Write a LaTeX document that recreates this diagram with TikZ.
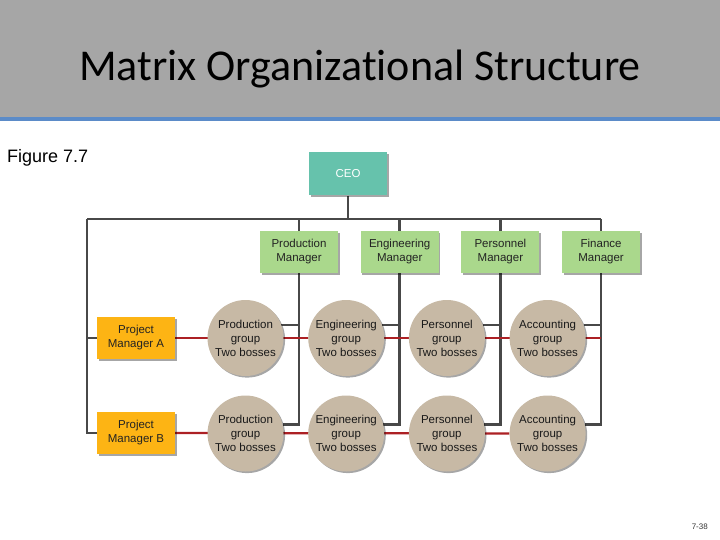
\documentclass[tikz,border=0pt]{standalone}
\usepackage{fontspec}
\setmainfont{Liberation Sans}
\newfontfamily\titlefont[Ligatures=NoCommon,Contextuals=NoAlternate]{Carlito}
\usepackage{tikz}
\usetikzlibrary{positioning,shadows,backgrounds}
\definecolor{mxHead}{RGB}{166,166,166}
\definecolor{mxRule}{RGB}{91,139,200}
\definecolor{mxTeal}{RGB}{102,194,172}
\definecolor{mxGreen}{RGB}{170,216,140}
\definecolor{mxOrange}{RGB}{253,180,20}
\definecolor{mxTan}{RGB}{199,185,165}
\definecolor{mxLine}{RGB}{72,72,72}
\definecolor{mxRed}{RGB}{172,32,36}
\definecolor{mxInk}{RGB}{35,35,35}
\tikzset{
  shade/.style={drop shadow={shadow xshift=1.6pt,shadow yshift=-1.6pt,fill=black,opacity=0.35}},
  chip/.style={shade,minimum width=78pt,minimum height=42pt,inner sep=0pt,align=center,
    font=\fontsize{11.5}{14}\selectfont,text=mxInk},
  ceobox/.style={chip,fill=mxTeal,minimum height=43pt,text=white},
  mgrbox/.style={chip,fill=mxGreen},
  projbox/.style={chip,fill=mxOrange},
  grpdisc/.style={shade,circle,fill=mxTan,minimum size=76pt,inner sep=0pt,align=center,
    font=\fontsize{11.5}{14}\selectfont,text=black!90},
  bossline/.style={draw=mxLine,line width=2.7pt},
  projline/.style={draw=mxRed,line width=2.3pt}
}
\begin{document}
\begin{tikzpicture}[x=1pt,y=-1pt]
  \useasboundingbox (0,0) rectangle (720,540);
  \fill[mxHead] (0,0) rectangle (720,117);
  \fill[mxRule] (0,117) rectangle (720,121);
  \node[anchor=base,inner sep=0pt,font=\titlefont\fontsize{44}{50}\selectfont] (title) at (360,81) {Matrix Organizational Structure};
  \node[anchor=base west,inner sep=0pt,font=\fontsize{18}{21}\selectfont] (fig) at (7,163) {Figure 7.7};
  \node[anchor=base east,inner sep=0pt,font=\fontsize{8}{9}\selectfont,text=black!80] (page) at (708,529) {7-38};

  \node[ceobox] (ceo) at (348,174) {CEO};
  \coordinate (bus) at (87,219);
  \foreach \mgr/\grp [count=\i] in {Production/Production,Engineering/Engineering,Personnel/Personnel,Finance/Accounting}{
    \node[mgrbox] (mgr\i) at ({299+100.7*(\i-1)},252) {\mgr\\Manager};
    \node[grpdisc] (grpA\i) at ({245.5+100.7*(\i-1)},338) {\grp\\group\\Two bosses};
    \node[grpdisc] (grpB\i) at ({245.5+100.7*(\i-1)},433.5) {\grp\\group\\Two bosses};
  }
  \node[projbox] (pmA) at (136,338) {Project\\Manager A};
  \node[projbox] (pmB) at (136,433) {Project\\Manager B};

  \begin{scope}[on background layer]
    \draw[bossline] (ceo.south) -- (ceo.south |- bus);
    \draw[bossline] (bus) -- (bus -| mgr4.north);
    \draw[bossline] (bus) |- (pmB.west);
    \draw[bossline] (bus |- pmA) -- (pmA.west);
    \foreach \i in {1,...,4}{
      \draw[bossline] (mgr\i.north |- bus) -- (mgr\i.north);
      \draw[bossline] (mgr\i.south) |- (grpB\i.14);
      \draw[bossline] (grpA\i.20) -- (grpA\i.20 -| mgr\i.south);
    }
    \draw[projline] (pmA.east) -- (pmA -| mgr4.south);
    \draw[projline] (pmB.east) -- (grpB4);
  \end{scope}
\end{tikzpicture}
\end{document}
